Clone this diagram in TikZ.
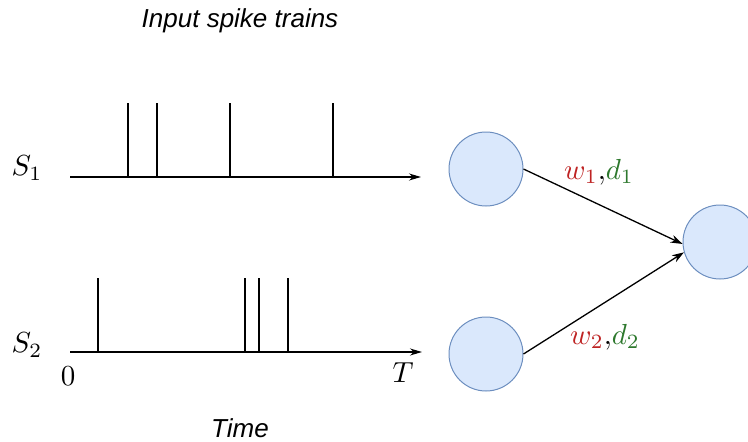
\documentclass[tikz,border=0pt]{standalone}
\usepackage{fontspec}
\setsansfont{Liberation Sans}
\usetikzlibrary{arrows.meta}
\definecolor{nfill}{HTML}{DAE8FC}
\definecolor{nline}{HTML}{6C8EBF}
\definecolor{wred}{RGB}{190,35,35}
\definecolor{dgreen}{RGB}{45,120,45}
\begin{document}
\begin{tikzpicture}[x=1pt,y=-1pt,
  axis/.style={line width=1.2pt,-{Stealth[length=12pt,width=7pt]}},
  spike/.style={line width=1.2pt},
  neuron/.style={circle,draw=nline,fill=nfill,line width=1pt,minimum size=74pt,inner sep=0pt},
  syn/.style={line width=1.3pt,-{Stealth[length=12pt,width=8pt]}},
  mathlbl/.style={font=\normalsize,scale=2.9,inner sep=0pt},
  ttl/.style={font=\sffamily\itshape\fontsize{26}{30}\selectfont,inner sep=0pt}]
\useasboundingbox (0,0) rectangle (748,442);
\clip (0,0) rectangle (748,442);
% titles
\node[ttl] (title) at (240,21) {Input spike trains};
\node[ttl] (time) at (240,428) {Time};
% axis 1
\coordinate (a1s) at (70,177);
\coordinate (a1e) at (421,177);
\draw[axis] (a1s) -- (a1e);
\foreach \x in {128,157,230,333} \draw[spike] (\x,177) -- (\x,103);
% axis 2
\coordinate (a2s) at (70,352);
\coordinate (a2e) at (422,352);
\draw[axis] (a2s) -- (a2e);
\foreach \x in {98,245,259,288} \draw[spike] (\x,352) -- (\x,278);
% labels
\node[mathlbl] (s1) at (27,168) {$S_1$};
\node[mathlbl] (s2) at (27,345) {$S_2$};
\node[mathlbl] (zero) at (68,376) {$0$};
\node[mathlbl] (tt) at (403,373) {$T$};
% neurons
\node[neuron] (n1) at (486,169) {};
\node[neuron] (n2) at (486,354) {};
\node[neuron] (n3) at (720,242) {};
\draw[syn] (n1.east) -- (n3.183);
\draw[syn] (n2.east) -- (n3.196);
\node[mathlbl] (l1) at (599,172) {$\color{wred}w_1\color{black}{,}\color{dgreen}d_1$};
\node[mathlbl] (l2) at (605,337) {$\color{wred}w_2\color{black}{,}\color{dgreen}d_2$};
\end{tikzpicture}
\end{document}
